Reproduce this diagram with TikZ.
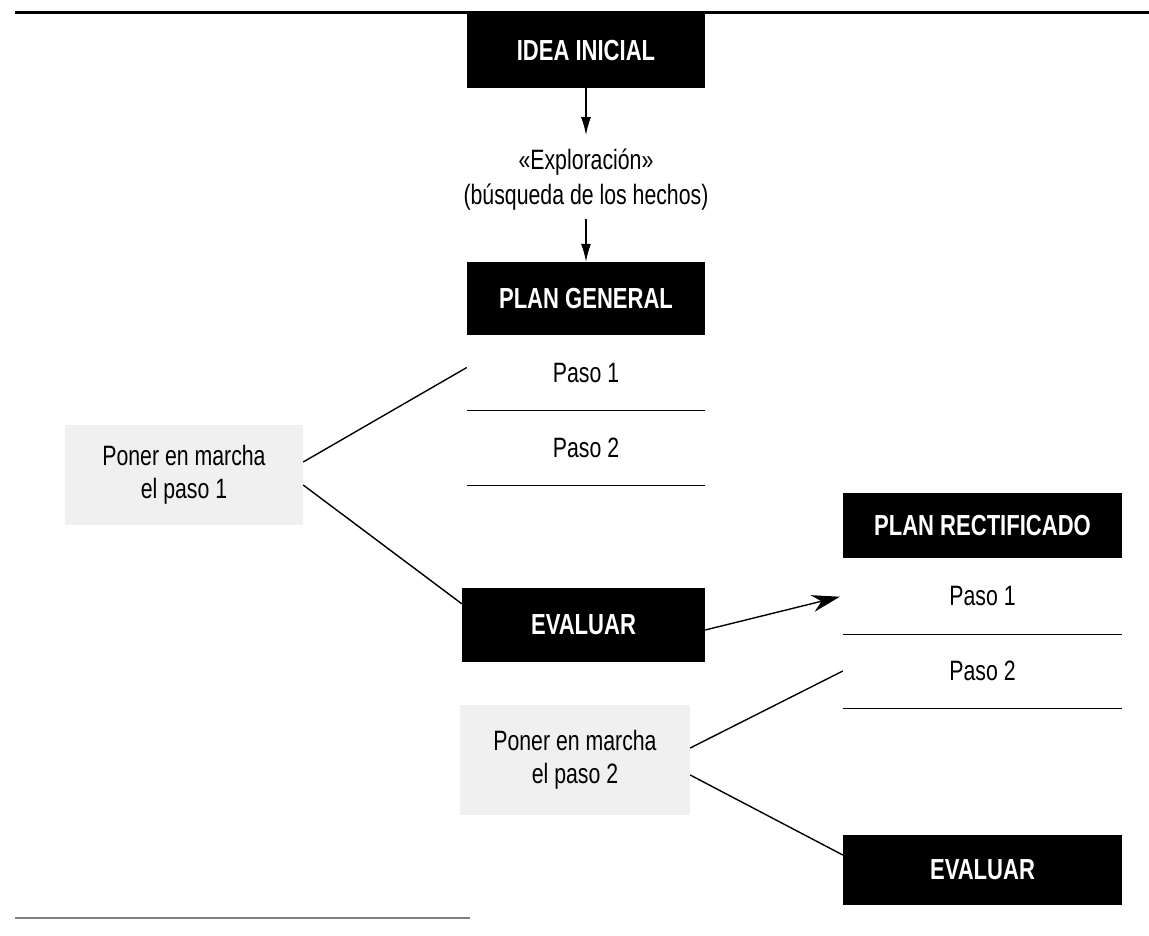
\documentclass[tikz,border=0pt]{standalone}
\usepackage{fontspec}
\setmainfont{Liberation Sans}[FakeStretch=0.76]
\usetikzlibrary{arrows.meta}
\newcommand{\txtfont}{\fontsize{28}{33}\selectfont}
\newcommand{\boxfont}{\fontsize{29}{34}\selectfont\bfseries}
\begin{document}
\begin{tikzpicture}[x=1pt,y=-1pt,
  bbox/.style={fill=black,text=white,font=\boxfont,inner sep=0pt},
  stepbox/.style={font=\txtfont,inner sep=0pt},
  greybox/.style={fill=gray!12,font=\txtfont,align=center,inner sep=0pt},
  link/.style={line width=1.4pt},
  arr/.style={line width=1.4pt,-{Latex[length=18pt,width=10pt]}},
  bigarr/.style={line width=1.4pt,-{Stealth[length=28pt,width=17pt]}},
  rule/.style={line width=1.3pt}]
\useasboundingbox (0,0) rectangle (1149,936);
% page rules
\coordinate (tl) at (15,13);
\coordinate (tr) at (1149,13);
\draw[line width=3pt] (tl) -- (tr);
\coordinate (bl) at (15,918);
\coordinate (br) at (470,918);
\draw[line width=2pt,gray] (bl) -- (br);
% top column
\node[bbox,minimum width=238pt,minimum height=75pt] (idea) at (586,50.5) {IDEA INICIAL};
\node[font=\txtfont,align=center,inner sep=0pt] (expl) at (586,180) {«Exploración»\\[2pt](búsqueda de los hechos)};
\node[bbox,minimum width=238pt,minimum height=73pt] (plan) at (586,298.5) {PLAN GENERAL};
\draw[arr,shorten >=14pt] (idea.south) -- (expl.north);
\draw[arr,shorten <=8pt] (expl.south) -- (plan.north);
\node[stepbox,minimum width=238pt,minimum height=73pt] (p1) at (586,373.5) {Paso 1};
\node[stepbox,minimum width=238pt,minimum height=75pt] (p2) at (586,447.5) {Paso 2};
\draw[rule] (p1.south west) -- (p1.south east);
\draw[rule] (p2.south west) -- (p2.south east);
% first grey box
\node[greybox,minimum width=238pt,minimum height=100pt] (g1) at (184,475) {Poner en marcha\\el paso 1};
\node[bbox,minimum width=243pt,minimum height=74pt] (ev1) at (583.5,625) {EVALUAR};
\draw[link] ([yshift=13pt]g1.east) -- ([yshift=6pt]p1.west);
\draw[link] ([yshift=-10pt]g1.east) -- ([yshift=-16pt]ev1.north west);
% rectified plan
\node[bbox,minimum width=279pt,minimum height=65pt] (rplan) at (982.5,525.5) {PLAN RECTIFICADO};
\node[stepbox,minimum width=279pt,minimum height=76pt] (rp1) at (982.5,596) {Paso 1};
\node[stepbox,minimum width=279pt,minimum height=74pt] (rp2) at (982.5,671) {Paso 2};
\draw[rule] (rp1.south west) -- (rp1.south east);
\draw[rule] (rp2.south west) -- (rp2.south east);
\draw[bigarr,shorten >=3pt] ([yshift=-5pt]ev1.east) -- ([yshift=0pt]rp1.west);
% second grey box
\node[greybox,minimum width=230pt,minimum height=110pt] (g2) at (575,760) {Poner en marcha\\el paso 2};
\node[bbox,minimum width=279pt,minimum height=70pt] (ev2) at (982.5,870) {EVALUAR};
\draw[link] ([yshift=12pt]g2.east) -- (rp2.west);
\draw[link] ([yshift=-15pt]g2.east) -- ([yshift=15pt]ev2.west);
\end{tikzpicture}
\end{document}
